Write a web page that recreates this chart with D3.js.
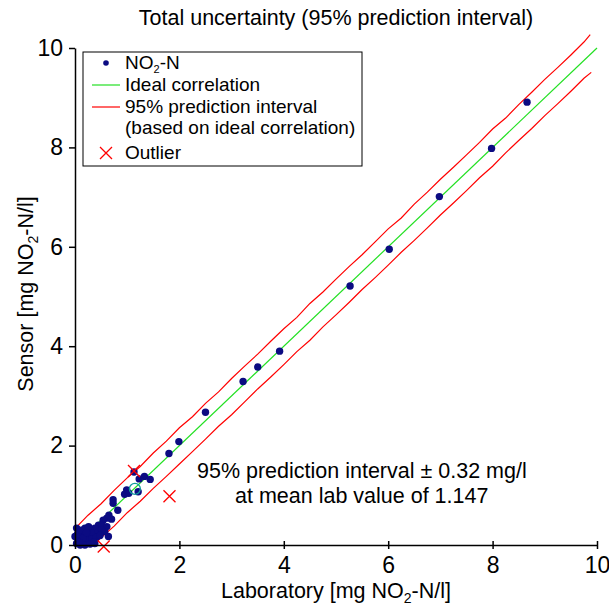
<!DOCTYPE html>
<html>
<head>
<meta charset="utf-8">
<script src="https://cdn.jsdelivr.net/npm/d3@7"></script>
<style>
  html, body { margin: 0; padding: 0; background: #fff; }
  svg { display: block; font-family: "Liberation Sans", Arial, Helvetica, sans-serif; }
  .axis path, .axis line { stroke: #000; stroke-width: 1.5; }
  .axis text { font-size: 23px; fill: #000; }
</style>
</head>
<body>
<svg id="chart" width="609" height="607"></svg>
<script>
// measured samples: laboratory value vs sensor value (mg NO2-N/l)
const sampleLab = [8.66, 7.98, 6.98, 6.02, 5.27, 3.92, 3.50, 3.22, 2.50, 1.99, 1.80,
  1.13, 1.33, 1.23, 1.44, 1.21, 0.99, 0.95, 1.03, 0.73, 0.73, 0.82, 0.65, 0.61, 0.54, 0.70,
  0.45, 0.51, 0.61, 0.38, 0.29, 0.19, 0.03, 0.10, 0.16, 0.26, 0.35, 0.45, 0.57, 0.64,
  0.06, 0.00, 0.13, 0.22, 0.32, 0.41, 0.03, 0.10, 0.19, 0.29, 0.38, 0.26, 0.51, 0.05,
  0.15, 0.36, 0.48, 0.12, 0.22, 0.08];
const sampleSensor = [8.91, 7.98, 7.01, 5.95, 5.21, 3.90, 3.58, 3.29, 2.67, 2.08, 1.84,
  1.47, 1.38, 1.33, 1.32, 1.07, 1.11, 1.02, 1.04, 0.91, 0.84, 0.70, 0.60, 0.54, 0.50, 0.52,
  0.40, 0.40, 0.37, 0.34, 0.30, 0.34, 0.34, 0.27, 0.20, 0.20, 0.24, 0.27, 0.27, 0.17,
  0.10, 0.17, 0.07, 0.10, 0.11, 0.15, 0.03, 0.00, 0.00, 0.02, 0.03, 0.37, 0.30, 0.22,
  0.14, 0.06, 0.19, 0.30, 0.25, 0.05];

const outlierLab = [1.13, 1.81, 0.55];
const outlierSensor = [1.49, 0.98, -0.03];

const meanLab = 1.147;
const meanSensor = 1.13;

const idealLine = [0, 10];

// 95% prediction interval
const upperLab = [0, 0.25, 0.5, 0.75, 1, 1.25, 1.5, 1.75, 2, 2.25, 2.5, 2.75, 3, 3.25, 3.5, 3.75,
  4, 4.25, 4.5, 4.75, 5, 5.25, 5.5, 5.75, 6, 6.25, 6.5, 6.75, 7, 7.25, 7.5, 7.75, 8, 8.25,
  8.5, 8.75, 9, 9.25, 9.5, 9.75, 9.87];
const upperSensor = [0.33, 0.60, 0.83, 1.10, 1.35, 1.58, 1.85, 2.09, 2.36, 2.58, 2.85, 3.08,
  3.35, 3.60, 3.84, 4.10, 4.35, 4.58, 4.86, 5.09, 5.35, 5.60, 5.84, 6.10, 6.36, 6.58, 6.86,
  7.10, 7.36, 7.60, 7.85, 8.10, 8.37, 8.59, 8.86, 9.11, 9.37, 9.61, 9.86, 10.12, 10.27];
const lowerLab = [0.35, 0.5, 0.75, 1, 1.25, 1.5, 1.75, 2, 2.25, 2.5, 2.75, 3, 3.25, 3.5, 3.75,
  4, 4.25, 4.5, 4.75, 5, 5.25, 5.5, 5.75, 6, 6.25, 6.5, 6.75, 7, 7.25, 7.5, 7.75, 8, 8.25,
  8.5, 8.75, 9, 9.25, 9.5, 9.75, 9.89];
const lowerSensor = [0.00, 0.15, 0.38, 0.65, 0.88, 1.14, 1.38, 1.63, 1.88, 2.13, 2.39, 2.62,
  2.88, 3.14, 3.38, 3.63, 3.89, 4.12, 4.39, 4.63, 4.88, 5.14, 5.38, 5.63, 5.89, 6.13, 6.38,
  6.64, 6.88, 7.13, 7.39, 7.62, 7.89, 8.14, 8.38, 8.64, 8.88, 9.13, 9.39, 9.51];

const ticks = [0, 2, 4, 6, 8, 10];

const svg = d3.select("#chart");
const x = d3.scaleLinear().domain([0, 10]).range([75, 597]);
const y = d3.scaleLinear().domain([0, 10]).range([545, 48]);

const line = d3.line().x(d => x(d[0])).y(d => y(d[1]));

// prediction interval
svg.append("path")
  .datum(d3.zip(upperLab, upperSensor))
  .attr("fill", "none").attr("stroke", "#ff0000").attr("stroke-width", 1.2)
  .attr("d", line);
svg.append("path")
  .datum(d3.zip(lowerLab, lowerSensor))
  .attr("fill", "none").attr("stroke", "#ff0000").attr("stroke-width", 1.2)
  .attr("d", line);

// ideal correlation
svg.append("path")
  .datum(idealLine.map(v => [v, v]))
  .attr("fill", "none").attr("stroke", "#22e022").attr("stroke-width", 1.2)
  .attr("d", line);

// samples
svg.append("g").selectAll("circle")
  .data(d3.zip(sampleLab, sampleSensor))
  .join("circle")
  .attr("cx", d => x(d[0])).attr("cy", d => y(d[1]))
  .attr("r", 3.7).attr("fill", "#0b0b82");

// mean marker
svg.append("circle")
  .attr("cx", x(meanLab)).attr("cy", y(meanSensor))
  .attr("r", 5.5).attr("fill", "none")
  .attr("stroke", "#119c9c").attr("stroke-width", 1.3);

// outliers
const cross = 6;
const outG = svg.append("g").attr("stroke", "#ff0000").attr("stroke-width", 1.3);
d3.zip(outlierLab, outlierSensor).forEach(d => {
  const cx = x(d[0]), cy = y(d[1]);
  outG.append("path").attr("d", `M${cx - cross},${cy - cross}L${cx + cross},${cy + cross}M${cx - cross},${cy + cross}L${cx + cross},${cy - cross}`);
});

// axes
const xAxis = svg.append("g").attr("class", "axis")
  .attr("transform", `translate(0,${y(0)})`)
  .call(d3.axisBottom(x).tickValues(ticks).tickSize(4).tickSizeOuter(0));
xAxis.selectAll(".tick line").attr("y1", -4);
xAxis.selectAll(".tick text").attr("y", 12).attr("dy", "0.71em");

const yAxis = svg.append("g").attr("class", "axis")
  .attr("transform", `translate(${x(0)},0)`)
  .call(d3.axisLeft(y).tickValues(ticks).tickSize(6).tickSizeOuter(0));
yAxis.selectAll(".tick text").attr("x", -12);

// titles
svg.append("text")
  .attr("x", 336).attr("y", 25).attr("text-anchor", "middle")
  .attr("font-size", 21.5).text("Total uncertainty (95% prediction interval)");

const xLabel = svg.append("text")
  .attr("x", 336).attr("y", 598).attr("text-anchor", "middle").attr("font-size", 21.5);
xLabel.append("tspan").text("Laboratory [mg NO");
xLabel.append("tspan").attr("font-size", 14).attr("dy", 5).text("2");
xLabel.append("tspan").attr("dy", -5).text("-N/l]");

const yLabel = svg.append("text")
  .attr("transform", "translate(33,294) rotate(-90)")
  .attr("text-anchor", "middle").attr("font-size", 21.5);
yLabel.append("tspan").text("Sensor [mg NO");
yLabel.append("tspan").attr("font-size", 14).attr("dy", 5).text("2");
yLabel.append("tspan").attr("dy", -5).text("-N/l]");

// annotation
svg.append("text").attr("x", 197).attr("y", 478).attr("font-size", 21.5)
  .text("95% prediction interval \u00b1 0.32 mg/l");
svg.append("text").attr("x", 235).attr("y", 503).attr("font-size", 21.5)
  .text("at mean lab value of 1.147");

// legend
const legend = svg.append("g");
legend.append("rect")
  .attr("x", 83).attr("y", 52).attr("width", 279).attr("height", 114)
  .attr("fill", "#fff").attr("stroke", "#000").attr("stroke-width", 1);

legend.append("circle").attr("cx", 106).attr("cy", 63).attr("r", 2.8).attr("fill", "#0b0b82");
const l1 = legend.append("text").attr("x", 125).attr("y", 69).attr("font-size", 19);
l1.append("tspan").text("NO");
l1.append("tspan").attr("font-size", 11).attr("dy", 3.5).text("2");
l1.append("tspan").attr("dy", -3.5).text("-N");

legend.append("line").attr("x1", 92).attr("x2", 120).attr("y1", 85).attr("y2", 85)
  .attr("stroke", "#22e022").attr("stroke-width", 1.2);
legend.append("text").attr("x", 125).attr("y", 91).attr("font-size", 19).text("Ideal correlation");

legend.append("line").attr("x1", 92).attr("x2", 120).attr("y1", 107).attr("y2", 107)
  .attr("stroke", "#ff0000").attr("stroke-width", 1.2);
legend.append("text").attr("x", 125).attr("y", 113).attr("font-size", 19).text("95% prediction interval");
legend.append("text").attr("x", 125).attr("y", 134).attr("font-size", 19).text("(based on ideal correlation)");

legend.append("path").attr("d", "M100,147L112,159M100,159L112,147")
  .attr("stroke", "#ff0000").attr("stroke-width", 1.3);
legend.append("text").attr("x", 125).attr("y", 159).attr("font-size", 19).text("Outlier");
</script>
</body>
</html>
